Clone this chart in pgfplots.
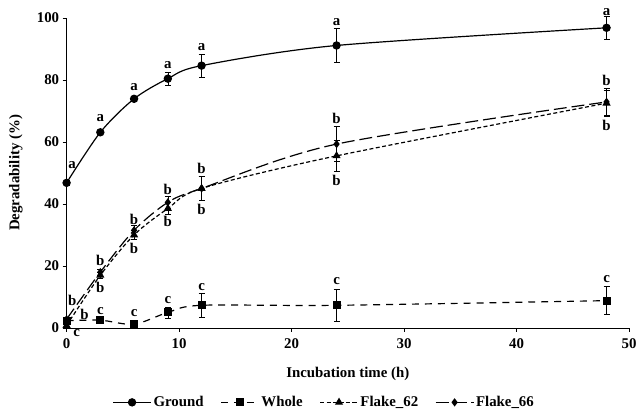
\documentclass[border=0pt]{standalone}
\usepackage{fontspec}
\setmainfont{Liberation Serif}
\usepackage{pgfplots}
\usepackage{pgfplotstable}
\pgfplotsset{compat=1.18}

% t, mean degradability, error
\pgfplotstableread{
t y e
0 46.8 0.8
3 63.1 0.8
6 73.9 0.8
9 80.4 2.0
12 84.6 3.8
24 91.1 5.4
48 96.8 3.7
}\ground
\pgfplotstableread{
t y e
0 2.3 0.6
3 2.5 0.8
6 1.2 0.5
9 5.0 1.8
12 7.3 3.8
24 7.3 5.2
48 8.8 4.5
}\whole
\pgfplotstableread{
t y e
0 0.8 0.5
3 17.0 1.0
6 30.0 1.5
9 38.5 2.0
12 45.0 3.9
24 55.5 5.0
48 72.5 4.0
}\flakesixtwo
\pgfplotstableread{
t y e
0 2.8 0.5
3 18.0 1.0
6 31.5 1.5
9 40.5 2.0
12 45.0 3.9
24 59.3 5.6
48 72.9 4.5
}\flakesixsix

\begin{document}
\begin{tikzpicture}
\begin{axis}[
  scale only axis,
  width=566bp, height=312bp,
  xmin=0, xmax=50, ymin=0, ymax=100,
  xtick={0,10,...,50}, ytick={0,20,...,100},
  axis lines*=left,
  axis line style={line width=0.6bp},
  tick align=outside,
  major tick length=4bp,
  tick style={black, line width=0.6bp},
  font=\fontsize{15}{17}\selectfont\bfseries,
  ticklabel style={font=\fontsize{15}{17}\selectfont\bfseries},
  xticklabel style={yshift=-3bp},
  /pgf/number format/assume math mode=true,
  xlabel={Incubation time (h)},
  ylabel={Degradability (\%)},
  xlabel style={at={(axis description cs:0.5,-0.147)}, anchor=center},
  ylabel style={at={(axis description cs:-0.09,0.5)}, anchor=center},
  clip=false,
  legend columns=4,
  legend style={at={(0.458,-0.24)}, anchor=center, draw=none, fill=none,
    /tikz/every even column/.append style={column sep=15bp},
    font=\fontsize{15}{17}\selectfont\bfseries},
  legend image code/.code={
    \draw[mark repeat=2, mark phase=2, #1]
      plot coordinates {(0bp,0bp) (19bp,0bp) (38bp,0bp)};},
  error bars/y dir=both,
  error bars/y explicit,
  error bars/error bar style={solid, black, line width=0.6bp},
  error bars/error mark options={solid, rotate=90, mark size=3bp, line width=0.6bp},
]
\addplot[black, line width=1.2bp, smooth, mark=*, mark size=3.6bp,
  mark options={solid}]
  table[x=t, y=y, y error=e] {\ground};
\addlegendentry{Ground}
\addplot[black, line width=1.2bp, smooth, dash pattern=on 7bp off 6bp,
  mark=square*, mark size=3.4bp, mark options={solid}]
  table[x=t, y=y, y error=e] {\whole};
\addlegendentry{Whole}
\addplot[black, line width=1.2bp, smooth, dash pattern=on 4bp off 2.5bp,
  mark=triangle*, mark size=3.6bp, mark options={solid}]
  table[x=t, y=y, y error=e] {\flakesixtwo};
\addlegendentry{Flake\_62}
\addplot[black, line width=1.2bp, smooth, dash pattern=on 13bp off 5bp,
  mark=diamond*, mark size=3.2bp, mark options={solid}]
  table[x=t, y=y, y error=e] {\flakesixsix};
\addlegendentry{Flake\_66}

% significance letters
\begin{scope}[every node/.style={font=\fontsize{15}{17}\selectfont\bfseries}]
\node at (axis cs:0.5,52.6) {a};
\node at (axis cs:3,67.8) {a};
\node at (axis cs:6,77.6) {a};
\node at (axis cs:9,84.8) {a};
\node at (axis cs:12,90.5) {a};
\node at (axis cs:24,98.8) {a};
\node at (axis cs:48,102) {a};
% Flake_66 above
\node at (axis cs:0.5,9) {b};
\node at (axis cs:3,21.8) {b};
\node at (axis cs:6,35) {b};
\node at (axis cs:9,44.6) {b};
\node at (axis cs:12,51.3) {b};
\node at (axis cs:24,67.6) {b};
\node at (axis cs:48,79.9) {b};
% Flake_62 below
\node at (axis cs:1.6,4.5) {b};
\node at (axis cs:3,13.1) {b};
\node at (axis cs:6,25.6) {b};
\node at (axis cs:9,34.4) {b};
\node at (axis cs:12,38.1) {b};
\node at (axis cs:24,47.5) {b};
\node at (axis cs:48,65.4) {b};
% Whole
\node at (axis cs:0.9,-1.8) {c};
\node at (axis cs:3,5.6) {c};
\node at (axis cs:6,4.9) {c};
\node at (axis cs:9,9.1) {c};
\node at (axis cs:12,13.2) {c};
\node at (axis cs:24,15.1) {c};
\node at (axis cs:48,15.8) {c};
\end{scope}
\end{axis}
\pgfresetboundingbox
\path ([xshift=-67bp,yshift=-89bp]current axis.south west)
  rectangle ([xshift=7bp,yshift=18bp]current axis.north east);
\end{tikzpicture}
\end{document}
